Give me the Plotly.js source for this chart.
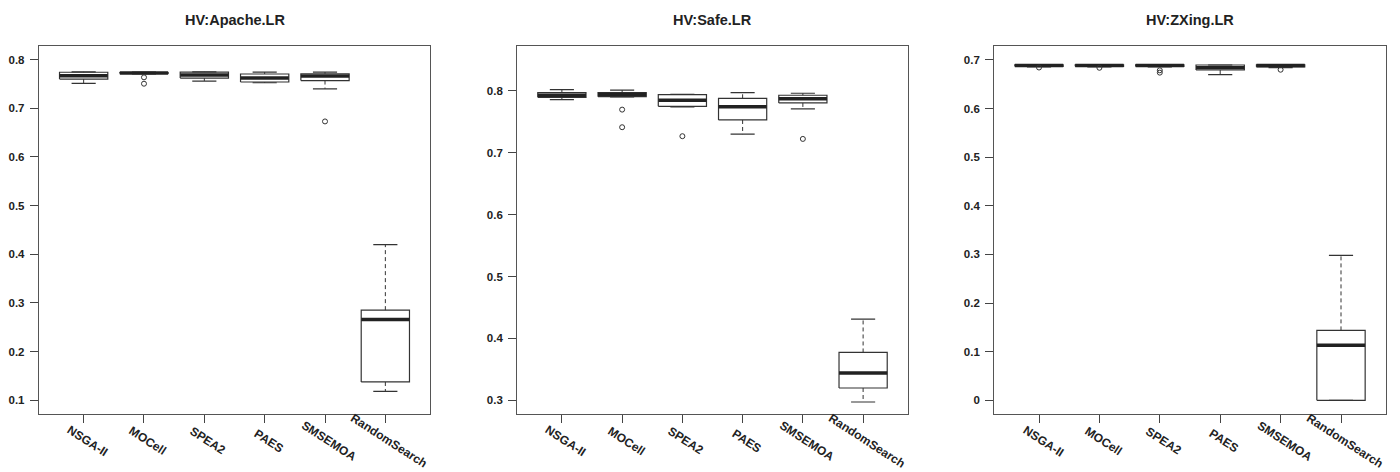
<!DOCTYPE html>
<html>
<head>
<meta charset="utf-8">
<script src="https://cdn.plot.ly/plotly-3.0.1.min.js"></script>
<style>html,body{margin:0;padding:0;background:#fff;}#chart{width:1400px;height:472px;}</style>
</head>
<body>
<div id="chart"></div>
<script>
const categories = ['NSGA-II', 'MOCell', 'SPEA2', 'PAES', 'SMSEMOA', 'RandomSearch'];
const panelTitles = ['HV:Apache.LR', 'HV:Safe.LR', 'HV:ZXing.LR'];

// Apache.LR
const apacheLo  = [0.751, 0.7705, 0.756, 0.7525, 0.740, 0.1185];
const apacheQ1  = [0.760, 0.7715, 0.762, 0.754, 0.757, 0.1377];
const apacheMed = [0.767, 0.7725, 0.7685, 0.762, 0.7665, 0.2661];
const apacheQ3  = [0.774, 0.7735, 0.7745, 0.7705, 0.771, 0.2853];
const apacheHi  = [0.775, 0.7745, 0.775, 0.7745, 0.7745, 0.4197];
const apacheOut = [[], [0.7636, 0.7505], [], [], [0.673], []];

// Safe.LR
const safeLo  = [0.7855, 0.790, 0.7737, 0.7297, 0.7705, 0.2974];
const safeQ1  = [0.7893, 0.7903, 0.7748, 0.7527, 0.7802, 0.320];
const safeMed = [0.7926, 0.794, 0.7845, 0.7742, 0.7871, 0.3442];
const safeQ3  = [0.7968, 0.797, 0.7935, 0.7877, 0.7926, 0.3774];
const safeHi  = [0.8016, 0.801, 0.794, 0.7968, 0.7958, 0.4313];
const safeOut = [[], [0.7694, 0.741], [0.7265], [], [0.7221], []];

// ZXing.LR
const zxingLo  = [0.686, 0.686, 0.686, 0.6698, 0.6845, 0.0];
const zxingQ1  = [0.687, 0.687, 0.687, 0.6794, 0.686, 0.0];
const zxingMed = [0.6885, 0.6885, 0.6885, 0.6842, 0.6885, 0.113];
const zxingQ3  = [0.690, 0.690, 0.690, 0.6897, 0.690, 0.1438];
const zxingHi  = [0.6905, 0.6905, 0.690, 0.6897, 0.6905, 0.2981];
const zxingOut = [[0.6845], [0.684], [0.6788, 0.674], [], [0.680], []];

const yRanges = [[0.0725, 0.8286], [0.2785, 0.8726], [-0.0276, 0.7294]];

const panels = [
  {lo: apacheLo, q1: apacheQ1, med: apacheMed, q3: apacheQ3, hi: apacheHi, out: apacheOut},
  {lo: safeLo, q1: safeQ1, med: safeMed, q3: safeQ3, hi: safeHi, out: safeOut},
  {lo: zxingLo, q1: zxingQ1, med: zxingMed, q3: zxingQ3, hi: zxingHi, out: zxingOut}
];

const W = 1400, H = 472;
const xDomainsPx = [[39, 430], [517.3, 907.7], [994.3, 1385.7]];
const yDomain = [1 - 413.7 / H, 1 - 45.7 / H];
const BOXHALF = 0.4, CAPHALF = 0.2;
const FONT = 'Liberation Sans, Arial, Helvetica, sans-serif';

const traces = [];
const annotations = [];
const layout = {
  width: W, height: H,
  margin: {l: 0, r: 0, t: 0, b: 0},
  paper_bgcolor: '#ffffff', plot_bgcolor: '#ffffff',
  showlegend: false,
  font: {family: FONT, color: '#222'},
  annotations: annotations
};

panels.forEach((p, k) => {
  const xa = k === 0 ? 'x' : 'x' + (k + 1);
  const ya = k === 0 ? 'y' : 'y' + (k + 1);
  const wx = [], wy = [], bx = [], by = [], cx = [], cy = [], mx = [], my = [], ox = [], oy = [];
  categories.forEach((c, i) => {
    wx.push(i, i, null, i, i, null);
    wy.push(p.q3[i], p.hi[i], null, p.q1[i], p.lo[i], null);
    bx.push(i - BOXHALF, i + BOXHALF, i + BOXHALF, i - BOXHALF, i - BOXHALF, null);
    by.push(p.q1[i], p.q1[i], p.q3[i], p.q3[i], p.q1[i], null);
    cx.push(i - CAPHALF, i + CAPHALF, null, i - CAPHALF, i + CAPHALF, null);
    cy.push(p.hi[i], p.hi[i], null, p.lo[i], p.lo[i], null);
    mx.push(i - BOXHALF, i + BOXHALF, null);
    my.push(p.med[i], p.med[i], null);
    p.out[i].forEach(v => { ox.push(i); oy.push(v); });
  });
  const common = {xaxis: xa, yaxis: ya, hoverinfo: 'skip', cliponaxis: false};
  traces.push(Object.assign({type: 'scatter', mode: 'lines', x: wx, y: wy,
    line: {color: '#333', width: 1, dash: '4px,3px'}}, common));
  traces.push(Object.assign({type: 'scatter', mode: 'lines', x: cx, y: cy,
    line: {color: '#333', width: 1.2}}, common));
  traces.push(Object.assign({type: 'scatter', mode: 'lines', x: bx, y: by,
    line: {color: '#333', width: 1.2}}, common));
  traces.push(Object.assign({type: 'scatter', mode: 'lines', x: mx, y: my,
    line: {color: '#222', width: 3.5}}, common));
  traces.push(Object.assign({type: 'scatter', mode: 'markers', x: ox, y: oy,
    marker: {symbol: 'circle-open', size: 5, color: '#333', line: {width: 1, color: '#333'}}}, common));

  const dom = [xDomainsPx[k][0] / W, xDomainsPx[k][1] / W];
  const xKey = k === 0 ? 'xaxis' : 'xaxis' + (k + 1);
  const yKey = k === 0 ? 'yaxis' : 'yaxis' + (k + 1);
  layout[xKey] = {
    domain: dom, anchor: ya, range: [-0.74, 5.74],
    tickmode: 'array', tickvals: categories.map((c, i) => i), showticklabels: false,
    ticks: 'outside', ticklen: 8, tickcolor: '#444', tickwidth: 1,
    showline: true, mirror: true, linecolor: '#555', linewidth: 1.2,
    showgrid: false, zeroline: false, fixedrange: true
  };
  layout[yKey] = {
    domain: yDomain, anchor: xa, range: yRanges[k],
    tick0: 0, dtick: 0.1,
    ticks: 'outside', ticklen: 8, tickcolor: '#444', tickwidth: 1,
    tickfont: {family: FONT, size: 11.5, weight: 700, color: '#222'},
    ticklabelstandoff: 3,
    showline: true, mirror: true, linecolor: '#555', linewidth: 1.2,
    showgrid: false, zeroline: false, fixedrange: true
  };
  // subplot title
  annotations.push({
    text: panelTitles[k], xref: 'paper', yref: 'paper',
    x: (dom[0] + dom[1]) / 2, y: 1 - 19.5 / H, xanchor: 'center', yanchor: 'middle',
    showarrow: false, font: {family: FONT, size: 14.5, weight: 700, color: '#222'}
  });
  // rotated category labels
  categories.forEach((c, i) => {
    annotations.push({
      text: c, xref: xa, yref: 'paper', x: i, y: yDomain[0],
      xanchor: 'center', yanchor: 'middle', xshift: 4, yshift: -27,
      textangle: 33, showarrow: false,
      font: {family: FONT, size: 12, weight: 700, color: '#222'}
    });
  });
});

Plotly.newPlot('chart', traces, layout, {staticPlot: true, displayModeBar: false});
</script>
</body>
</html>
